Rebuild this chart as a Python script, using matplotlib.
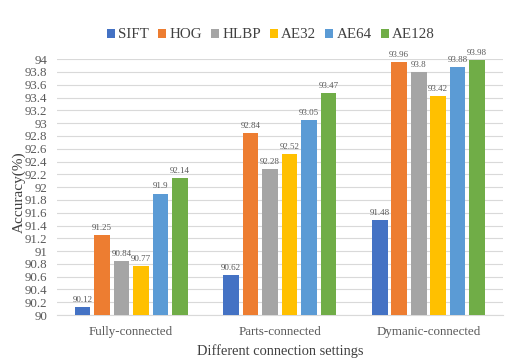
import numpy as np
import matplotlib.pyplot as plt

plt.rcParams['font.family'] = ['Liberation Serif', 'DejaVu Serif']

categories = ['Fully-connected', 'Parts-connected', 'Dymanic-connected']
methods = ['SIFT', 'HOG', 'HLBP', 'AE32', 'AE64', 'AE128']
values = {
    'SIFT': [90.12, 90.62, 91.48],
    'HOG': [91.25, 92.84, 93.96],
    'HLBP': [90.84, 92.28, 93.8],
    'AE32': [90.77, 92.52, 93.42],
    'AE64': [91.9, 93.05, 93.88],
    'AE128': [92.14, 93.47, 93.98],
}
colors = ['#4472C4', '#ED7D31', '#A5A5A5', '#FFC000', '#5B9BD5', '#70AD47']

fig = plt.figure(figsize=(5.21, 3.63), dpi=100)
ax = fig.add_axes([0.109, 0.132, 0.856, 0.705])

x = np.arange(len(categories))
slot = 0.131
width = 0.105
for i, m in enumerate(methods):
    pos = x + (i - 2.5) * slot
    bars = ax.bar(pos, values[m], width, color=colors[i], label=m, zorder=3)
    for b, v in zip(bars, values[m]):
        ax.text(b.get_x() + b.get_width() / 2, v + 0.05, f'{v:g}',
                ha='center', va='bottom', fontsize=6.5, color='#595959')

ax.set_ylim(90, 94)
ax.set_xlim(-0.5, 2.5)
ticks = np.round(np.arange(90, 94.01, 0.2), 1)
ax.set_yticks(ticks)
ax.set_yticklabels([f'{t:g}' for t in ticks])
ax.set_xticks(x)
ax.set_xticklabels(categories)
ax.grid(axis='y', color='#d9d9d9', linewidth=0.8, zorder=0)
for s in ['top', 'right', 'left']:
    ax.spines[s].set_visible(False)
ax.spines['bottom'].set_color('#d9d9d9')
ax.tick_params(axis='y', length=0, labelsize=9.3, colors='#595959', pad=7)
ax.tick_params(axis='x', length=0, labelsize=9.4, colors='#595959', pad=8)
ax.set_ylabel('Accuracy(%)', fontsize=11, color='#404040')
ax.yaxis.set_label_coords(-0.07, 0.48)
ax.set_xlabel('Different connection settings', fontsize=10.4, color='#404040', labelpad=4)

ax.legend(loc='center', bbox_to_anchor=(0.48, 1.095), ncol=6, frameon=False,
          fontsize=10.8, handlelength=0.55, handleheight=0.55, handletextpad=0.2,
          columnspacing=0.6, labelcolor='#404040')

fig.savefig('out.png', dpi=100)
